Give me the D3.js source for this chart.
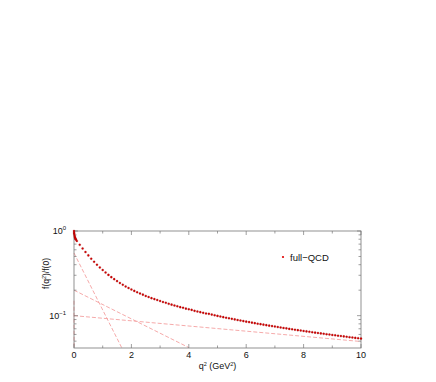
<!DOCTYPE html>
<html><head><meta charset="utf-8">
<script src="https://cdn.jsdelivr.net/npm/d3@7"></script>
<style>body{margin:0;background:#fff}svg{display:block}text{font-family:"Liberation Sans",Arial,sans-serif}</style>
</head><body><svg id="c" width="436" height="382"></svg>
<script>
// full-QCD data points (q^2 in GeV^2, f(q^2)/f(0))
const q2 = [0,0.005,0.01,0.02,0.03,0.04,0.05,0.07,
0.1,0.2,0.3,0.4,0.5,0.6,0.7,0.8,0.9,1.0,1.1,1.2,1.3,1.4,1.5,1.6,1.7,1.8,1.9,2.0,
2.1,2.2,2.3,2.4,2.5,2.6,2.7,2.8,2.9,3.0,3.1,3.2,3.3,3.4,3.5,3.6,3.7,3.8,3.9,4.0,
4.1,4.2,4.3,4.4,4.5,4.6,4.7,4.8,4.9,5.0,5.1,5.2,5.3,5.4,5.5,5.6,5.7,5.8,5.9,6.0,
6.1,6.2,6.3,6.4,6.5,6.6,6.7,6.8,6.9,7.0,7.1,7.2,7.3,7.4,7.5,7.6,7.7,7.8,7.9,8.0,
8.1,8.2,8.3,8.4,8.5,8.6,8.7,8.8,8.9,9.0,9.1,9.2,9.3,9.4,9.5,9.6,9.7,9.8,9.9,10.0];
const fullQCD = [1.0,0.95,0.92,0.88,0.85,0.83,0.81,0.79,
0.763,0.687,0.621,0.564,0.515,0.471,0.433,0.400,0.371,0.346,0.323,0.303,0.285,0.270,0.256,0.243,0.232,0.221,0.212,0.204,
0.196,0.189,0.183,0.177,0.171,0.166,0.161,0.157,0.153,0.149,0.145,0.142,0.138,0.135,0.132,0.129,0.126,0.124,0.121,0.119,
0.117,0.114,0.112,0.110,0.108,0.106,0.105,0.103,0.101,0.0993,0.0977,0.0961,0.0945,0.0931,0.0917,0.0903,0.0888,0.0876,0.0863,0.0850,
0.0839,0.0827,0.0816,0.0804,0.0794,0.0783,0.0773,0.0762,0.0753,0.0744,0.0734,0.0725,0.0716,0.0708,0.0698,0.0690,0.0682,0.0674,0.0667,0.0659,
0.0652,0.0645,0.0637,0.0630,0.0624,0.0617,0.0611,0.0604,0.0598,0.0592,0.0586,0.0580,0.0574,0.0569,0.0563,0.0557,0.0552,0.0546,0.0542,0.0536];
// individual exponential components (dashed), endpoints [q2, f]
const compA = [[0,0.55],[1.66,0.042]];
const compB = [[0,0.20],[4.0,0.042]];
const compC = [[0,0.10],[10,0.0495]];
const compD = [[0,0.15],[0.004,0.042]];
const components = [compA, compB, compC, compD];
const xTicks = [0,2,4,6,8,10];
const xMinor = [1,3,5,7,9];
const yTicks = [1,0.1];
const yMinor = [0.05,0.06,0.07,0.08,0.09,0.2,0.3,0.4,0.5,0.6,0.7,0.8,0.9];

const svg = d3.select("#c");
const L=74, R=361, T=231, B=348;
const x = d3.scaleLinear().domain([0,10]).range([L,R]);
const y = d3.scaleLog().domain([0.0415,1]).range([B,T]);

const frameCol = "#777";
const g = svg.append("g");
const line = d3.line().x(d=>x(d[0])).y(d=>y(d[1]));
g.selectAll(".comp").data(components).enter().append("path")
  .attr("d", line).attr("fill","none").attr("stroke","#f4a0a0")
  .attr("stroke-width",0.9).attr("stroke-dasharray","4,2");

g.append("rect").attr("x",L).attr("y",T).attr("width",R-L).attr("height",B-T)
  .attr("fill","none").attr("stroke",frameCol).attr("stroke-width",0.8);

const xt = xTicks.map(v=>({v,len:4})).concat(xMinor.map(v=>({v,len:2.5})));
xt.forEach(t=>{
  g.append("line").attr("x1",x(t.v)).attr("x2",x(t.v)).attr("y1",B).attr("y2",B-t.len).attr("stroke",frameCol).attr("stroke-width",0.7);
  g.append("line").attr("x1",x(t.v)).attr("x2",x(t.v)).attr("y1",T).attr("y2",T+t.len).attr("stroke",frameCol).attr("stroke-width",0.7);
});
const yt = yTicks.map(v=>({v,len:4})).concat(yMinor.map(v=>({v,len:2.5})));
yt.forEach(t=>{
  g.append("line").attr("x1",L).attr("x2",L+t.len).attr("y1",y(t.v)).attr("y2",y(t.v)).attr("stroke",frameCol).attr("stroke-width",0.7);
  g.append("line").attr("x1",R).attr("x2",R-t.len).attr("y1",y(t.v)).attr("y2",y(t.v)).attr("stroke",frameCol).attr("stroke-width",0.7);
});

g.selectAll(".xl").data(xTicks).enter().append("text")
  .attr("x",d=>x(d)).attr("y",B+10).attr("text-anchor","middle")
  .attr("font-size",9).attr("fill","#111").text(d=>d);
yTicks.forEach(v=>{
  const e = Math.round(Math.log10(v));
  const t = g.append("text").attr("x",L-8).attr("y",y(v)+3).attr("text-anchor","end")
    .attr("font-size",9).attr("fill","#111");
  t.append("tspan").text("10");
  t.append("tspan").attr("dy",-4).attr("font-size",6).text(e===0?"0":"\u2212"+(-e));
});

const xl = g.append("text").attr("x",(L+R)/2).attr("y",B+21).attr("text-anchor","middle")
  .attr("font-size",9).attr("fill","#111");
xl.append("tspan").text("q");
xl.append("tspan").attr("dy",-3.5).attr("font-size",5.5).text("2");
xl.append("tspan").attr("dy",3.5).text(" (GeV");
xl.append("tspan").attr("dy",-3.5).attr("font-size",5.5).text("2");
xl.append("tspan").attr("dy",3.5).text(")");

const yl = g.append("text").attr("transform",`translate(${L-25},${(T+B)/2-16}) rotate(-90)`)
  .attr("text-anchor","middle").attr("font-size",8.5).attr("fill","#111");
yl.append("tspan").text("f(q");
yl.append("tspan").attr("dy",-3.5).attr("font-size",5.5).text("2");
yl.append("tspan").attr("dy",3.5).text(")/f(0)");

g.selectAll(".pt").data(q2.map((q,i)=>[q,fullQCD[i]])).enter().append("circle")
  .attr("cx",d=>x(d[0])).attr("cy",d=>y(d[1])).attr("r",1.05)
  .attr("fill","#d00000").attr("stroke","#900").attr("stroke-width",0.25);

g.append("circle").attr("cx",283).attr("cy",257).attr("r",1.1).attr("fill","#e00000");
g.append("text").attr("x",290).attr("y",260.5).attr("font-size",9.5).attr("fill","#111").text("full\u2212QCD");
</script></body></html>
